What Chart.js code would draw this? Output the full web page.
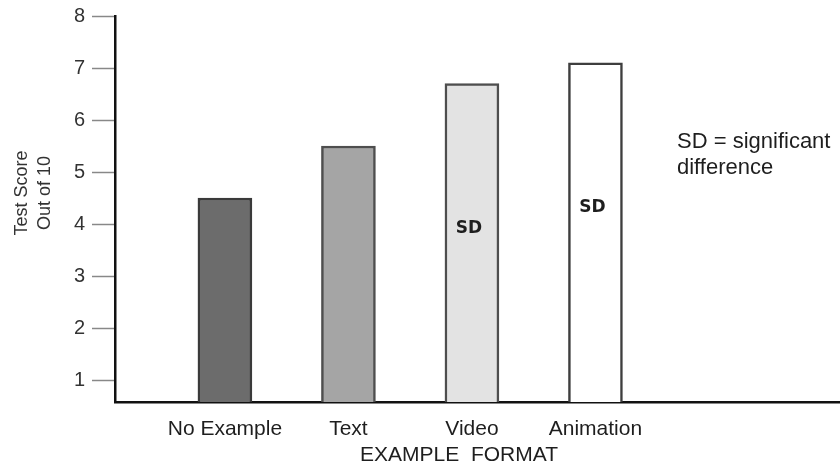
<!DOCTYPE html>
<html>
<head>
<meta charset="utf-8">
<script src="https://cdn.jsdelivr.net/npm/chart.js@4.4.1/dist/chart.umd.min.js"></script>
<style>
html, body { margin: 0; padding: 0; background: #fff; }
</style>
</head>
<body>
<canvas id="myChart" width="840" height="468"></canvas>
<script>
// values
const categories = ['No Example', 'Text', 'Video', 'Animation'];
const scores = [4.5, 5.5, 6.7, 7.1];
const sdMarks = ['', '', 'SD', 'SD'];
const barFills = ['#6c6c6c', '#a5a5a5', '#e3e3e3', '#ffffff'];
const barEdges = ['#3a3a3a', '#4e4e4e', '#4e4e4e', '#3e3e3e'];
const yTitle = ['Test Score', 'Out of 10'];
const xTitle = 'EXAMPLE  FORMAT';
const noteLines = ['SD = significant', 'difference'];

const textPlugin = {
	id: 'textPlugin',
	afterDraw(chart) {
		const ctx = chart.ctx;
		ctx.save();
		ctx.fillStyle = '#1e1e1e';
		ctx.textBaseline = 'middle';

		// SD marks inside bars
		ctx.textAlign = 'center';
		ctx.font = 'bold 17px "DejaVu Sans"';
		const meta = chart.getDatasetMeta(0);
		meta.data.forEach((bar, i) => {
			if (sdMarks[i]) ctx.fillText(sdMarks[i], bar.x - 3, bar.y + 145);
		});

		// x title
		ctx.font = '21px "Liberation Sans"';
		ctx.fillText(xTitle, 459, 455);

		// note on the right
		ctx.textAlign = 'left';
		ctx.font = '22px "Liberation Sans"';
		noteLines.forEach((t, i) => {
			ctx.fillText(t, 677, 142 + i * 26);
		});

		// y title, rotated
		ctx.fillStyle = '#333';
		ctx.font = '18px "Liberation Sans"';
		ctx.textAlign = 'center';
		yTitle.forEach((t, i) => {
			ctx.save();
			ctx.translate(22 + i * 23, 193);
			ctx.rotate(-Math.PI / 2);
			ctx.fillText(t, 0, 0);
			ctx.restore();
		});
		ctx.restore();
	}
};

const ctx = document.getElementById('myChart').getContext('2d');
const myChart = new Chart(ctx, {
	type: 'bar',
	data: {
		datasets: [{
			data: scores.map((s, i) => ({ x: i + 1, y: s })),
			backgroundColor: barFills,
			borderColor: barEdges,
			borderWidth: 2.5,
			barThickness: 54,
		}]
	},
	options: {
		responsive: false,
		animation: false,
		devicePixelRatio: 1,
		layout: {
			padding: { top: 16, right: 0, bottom: 0, left: 0 }
		},
		plugins: {
			legend: { display: false },
			tooltip: { enabled: false },
		},
		scales: {
			x: {
				type: 'linear',
				offset: false,
				min: 0.11,
				max: 5.98,
				afterFit(scale) {
					scale.height = 66;
					scale.paddingLeft = 0;
					scale.paddingRight = 0;
				},
				border: { display: true, color: '#111', width: 2.5 },
				grid: { offset: false, drawOnChartArea: false, drawTicks: false },
				ticks: {
					stepSize: 1,
					includeBounds: false,
					autoSkip: false,
					maxRotation: 0,
					padding: 15,
					color: '#1e1e1e',
					font: { family: 'Liberation Sans', size: 21 },
					callback: v => categories[v - 1] || ''
				}
			},
			y: {
				min: 0.577,
				max: 8,
				afterFit(scale) {
					scale.width = 115;
					scale.paddingTop = 0;
					scale.paddingBottom = 0;
				},
				border: { display: true, color: '#111', width: 2.5 },
				grid: {
					drawOnChartArea: false,
					drawTicks: true,
					tickLength: 23,
					tickColor: '#888',
					tickWidth: 1.5,
				},
				ticks: {
					stepSize: 1,
					includeBounds: false,
					padding: 7,
					color: '#333',
					font: { family: 'Liberation Sans', size: 20 },
				}
			}
		}
	},
	plugins: [textPlugin]
});
</script>
</body>
</html>
